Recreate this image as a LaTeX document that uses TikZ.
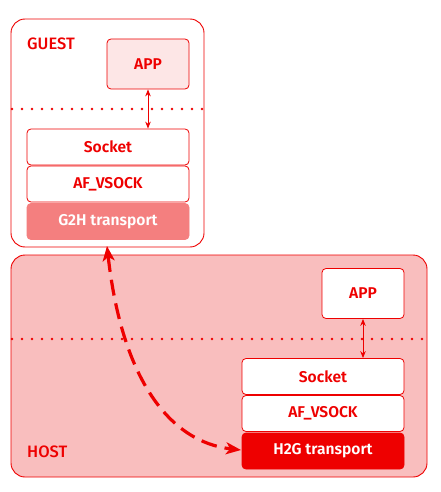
\documentclass[tikz,border=0pt]{standalone}
\usepackage{fontspec}
\setmainfont{Fira Sans}[BoldFont={* SemiBold}]
\newfontfamily\labelfont{Fira Sans}[UprightFont={* Medium}]
\usetikzlibrary{arrows.meta}
\definecolor{rhred}{HTML}{EE0000}
\definecolor{hostfill}{HTML}{F9BEBE}
\definecolor{appfill}{HTML}{FDE6E6}
\definecolor{gfill}{HTML}{F47F7F}
\begin{document}
\begin{tikzpicture}[x=1pt,y=-1pt,
  region/.style={draw=rhred,line width=0.9pt,rounded corners=14pt},
  layer/.style={draw=rhred,line width=0.8pt,rounded corners=4pt,minimum width=162pt,minimum height=36pt,inner sep=0pt,text=rhred,font=\fontsize{15.6}{17}\selectfont\bfseries},
  appbox/.style={layer,minimum width=82pt,minimum height=50pt},
  sep/.style={draw=rhred,line width=2.6pt,line cap=round,dash pattern=on 0pt off 10pt},
  link/.style={draw=rhred,line width=0.9pt,{Stealth[length=7pt,width=5.5pt]}-{Stealth[length=7pt,width=5.5pt]}},
  lbl/.style={text=rhred,anchor=west,inner sep=0pt,font=\fontsize{16.5}{18}\labelfont}
]
\useasboundingbox (0,0) rectangle (440,492);
% guest
\draw[region,fill=white] (11,19) rectangle (204,247);
\node[lbl] (guestlbl) at (27,44) {GUEST};
\node[appbox,fill=appfill] (gapp) at (148,64) {APP};
\draw[sep] (12,109) -- (204,109);
\node[layer,fill=white] (gsock) at (108,147) {Socket};
\node[layer,fill=white] (gaf) at (108,184) {AF\_VSOCK};
\node[layer,fill=gfill,draw=gfill,text=white] (g2h) at (108,221.5) {G2H transport};
\draw[link] (gapp.south) -- (gsock.north -| gapp.south);
% host
\draw[region,fill=hostfill] (11,255) rectangle (427,477);
\node[lbl] (hostlbl) at (27,452) {HOST};
\node[appbox,fill=white] (happ) at (363,293.5) {APP};
\draw[sep] (12,339) -- (427,339);
\node[layer,fill=white] (hsock) at (323,376.5) {Socket};
\node[layer,fill=white] (haf) at (323,413.5) {AF\_VSOCK};
\node[layer,fill=rhred,text=white] (h2g) at (323,451) {H2G transport};
\draw[link] (happ.south) -- (hsock.north -| happ.south);
% dashed link
\coordinate (gtip) at (107,246);
\coordinate (htip) at (241,450);
\draw[rhred,line width=3.2pt,dash pattern=on 16pt off 8pt,{Stealth[length=15pt,width=12pt,inset=4pt]}-{Stealth[length=15pt,width=12pt,inset=4pt]}]
  (gtip) .. controls (122,380) and (170,442) .. (htip);
\end{tikzpicture}
\end{document}
